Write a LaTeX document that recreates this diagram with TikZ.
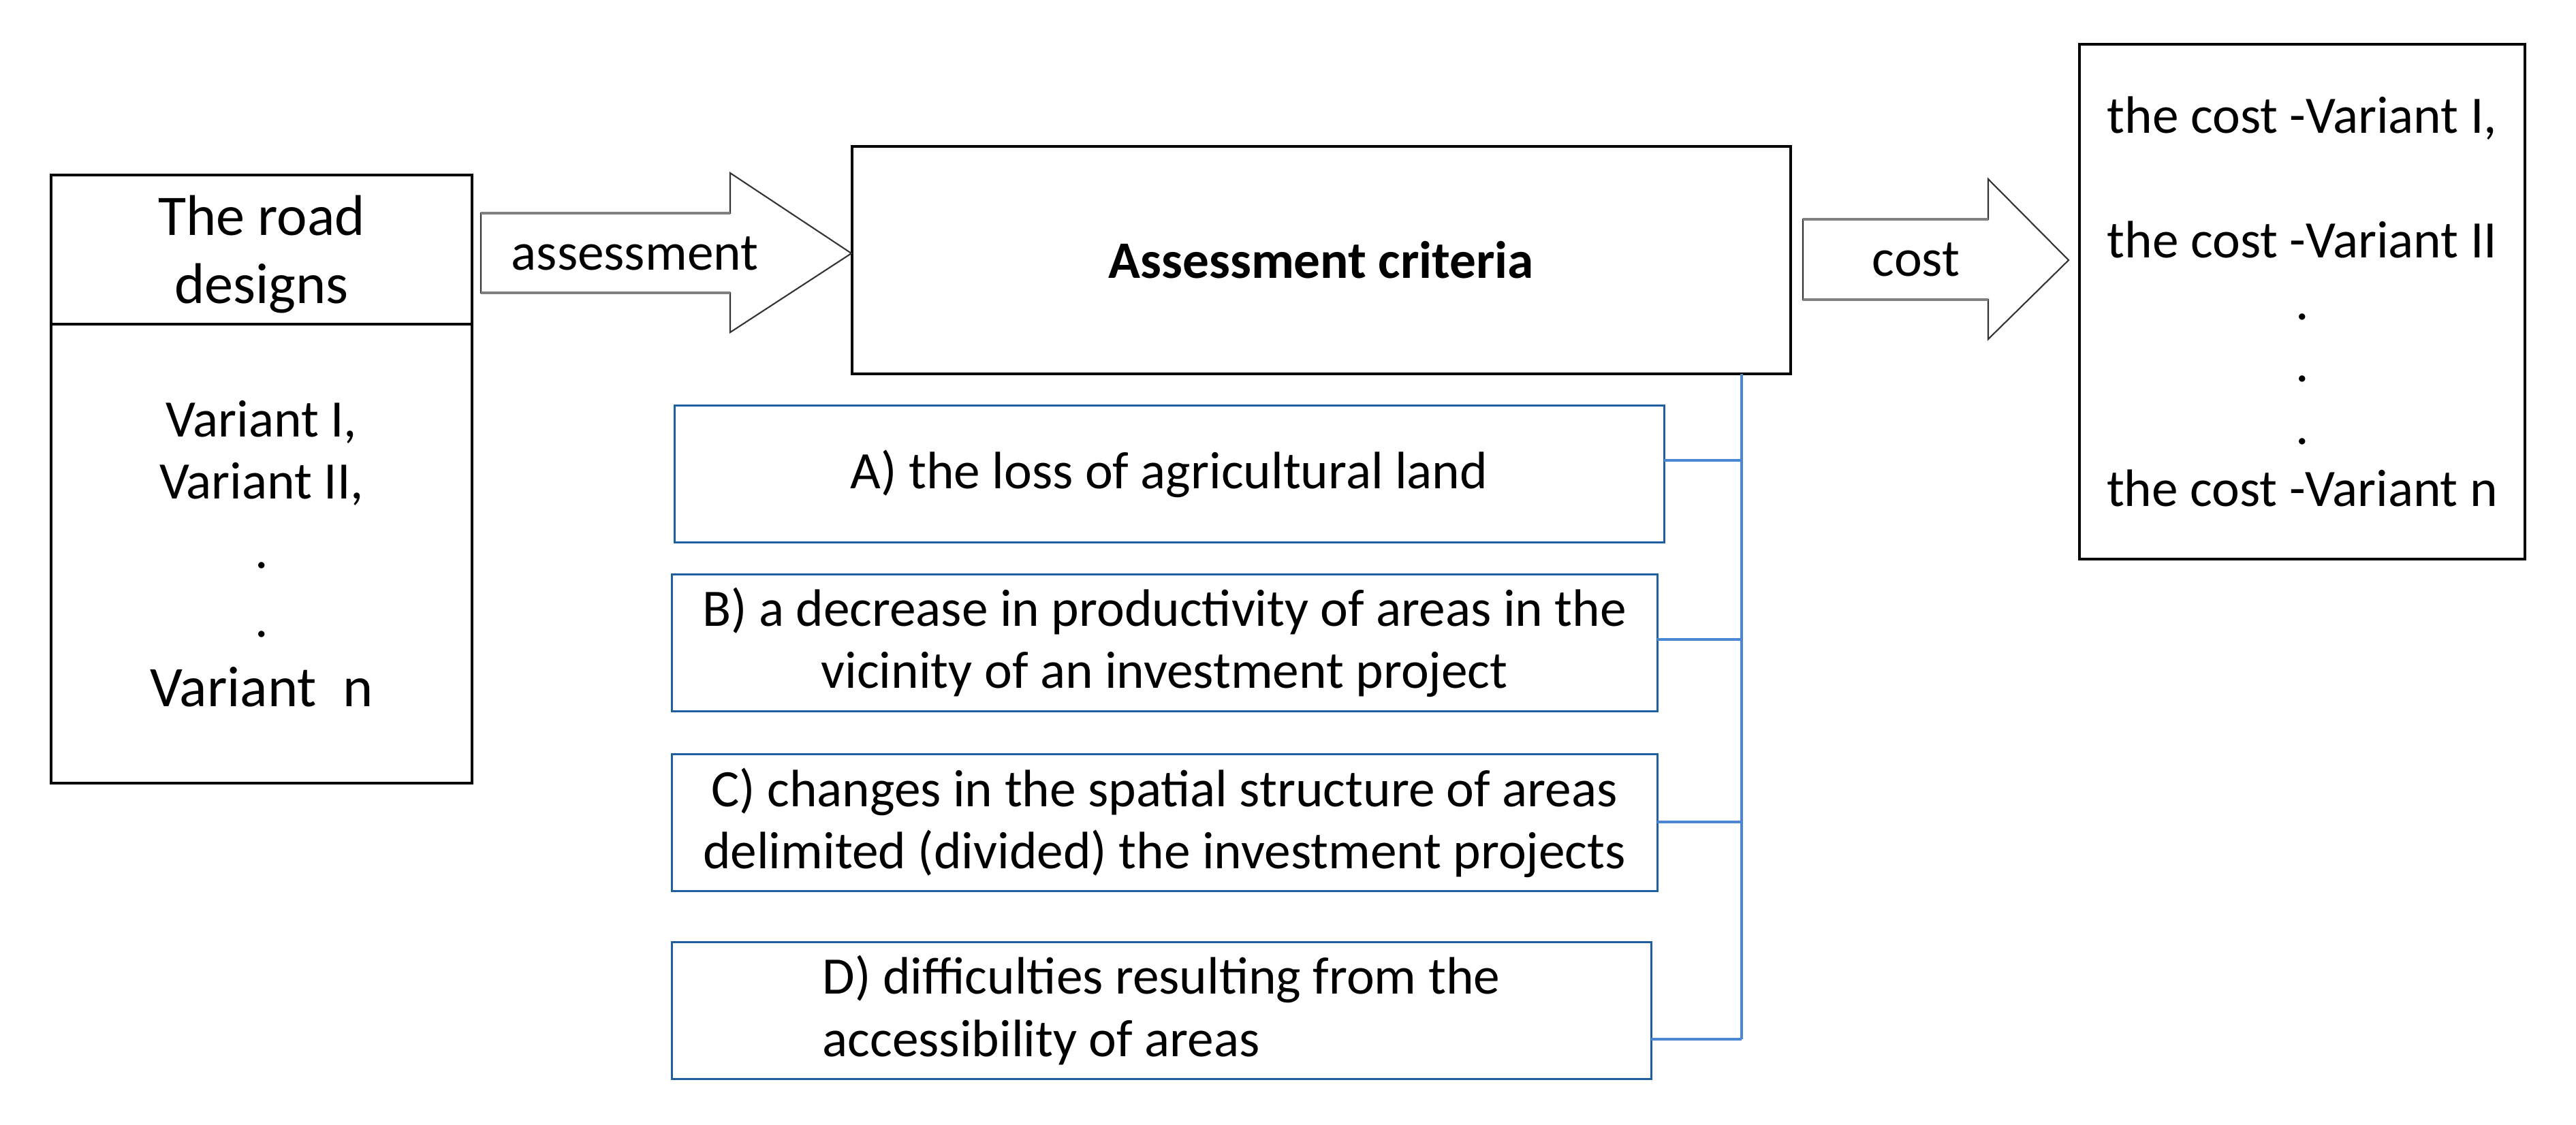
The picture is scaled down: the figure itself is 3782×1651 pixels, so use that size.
\documentclass[tikz,border=0pt]{standalone}
\usepackage{fontspec}
\setmainfont{Carlito}

\definecolor{critblue}{HTML}{1F5F9F}
\definecolor{busblue}{HTML}{4A86D2}
\definecolor{shaftgray}{HTML}{808080}

\tikzset{
  blackbox/.style={draw=black, line width=0.9pt, inner sep=0pt, outer sep=0pt, align=center},
  critbox/.style={draw=critblue, line width=0.85pt, inner sep=0pt, outer sep=0pt, minimum height=20.1mm},
  busline/.style={draw=busblue, line width=0.9pt},
  arrowline/.style={draw=black!80, line width=0.6pt, line join=miter},
  shaftedge/.style={draw=shaftgray, line width=1.4pt},
  txt/.style={font=\fontsize{22}{26}\selectfont},
}

\begin{document}
\begin{tikzpicture}[x=0.1mm, y=-0.1mm]
        \fill[white] (0,0) rectangle (3782,1651);
        \useasboundingbox (0,0) rectangle (3782,1651);

        % road designs
        \node[blackbox, minimum width=61.8mm, minimum height=21.9mm, text depth=0pt, font=\fontsize{24}{28.5}\selectfont] (roads) at (384,366.5) {The road\\designs};
        \node[blackbox, minimum width=61.8mm, minimum height=67.4mm, txt] (variants) at (384,813) {Variant I,\\Variant II,\\[1mm].\\[1mm].\\[1mm]{\fontsize{24}{28}\selectfont Variant\ \ n}};

        % criteria and costs
        \node[blackbox, minimum width=137.8mm, minimum height=33.4mm, txt] (crit) at (1940,382) {\textbf{Assessment criteria}};
        \node[blackbox, minimum width=65.4mm, minimum height=75.6mm, txt] (costs) at (3380,443) {the cost -Variant I,\\[26pt]the cost -Variant II\\.\\.\\.\\the cost -Variant n};

        \node[critbox, minimum width=145.3mm, txt] (lossA) at (1716.5,695.5) {A) the loss of agricultural land};
        \node[critbox, minimum width=144.7mm, txt, align=center] (prodB) at (1709.5,943.5) {B) a decrease in productivity of areas in the\\vicinity of an investment project};
        \node[critbox, minimum width=144.7mm, txt, align=center] (spatC) at (1709.5,1208) {C) changes in the spatial structure of areas\\delimited (divided) the investment projects};
        \node[critbox, minimum width=143.8mm, txt, align=left] (accD) at (1705,1483.5) {D) difficulties resulting from the\\accessibility of areas};

        % bus
        \coordinate (bus) at (2557,1526);
        \draw[busline] (crit.south -| bus) -- (bus);
        \foreach \b/\y in {lossA/676, prodB/939, spatC/1207, accD/1526}
                \draw[busline] (\b.east |- 0,\y) -- (bus |- 0,\y);

        % assessment arrow
        \draw[arrowline] (706,313) -- (1072,313) -- (1072,254) -- (1250,372) -- (1072,488) -- (1072,430) -- (706,430) -- cycle;
        \draw[shaftedge] (706,313) -- (1072,313) (706,430) -- (1072,430);
        \node[txt, inner sep=0pt] (assess) at (932,372) {assessment};

        % cost arrow
        \draw[arrowline] (2647,322) -- (2919,322) -- (2919,263) -- (3037,382) -- (2919,498) -- (2919,440) -- (2647,440) -- cycle;
        \draw[shaftedge] (2647,322) -- (2919,322) (2647,440) -- (2919,440);
        \node[txt, inner sep=0pt] (costlbl) at (2813,381) {cost};
\end{tikzpicture}
\end{document}
